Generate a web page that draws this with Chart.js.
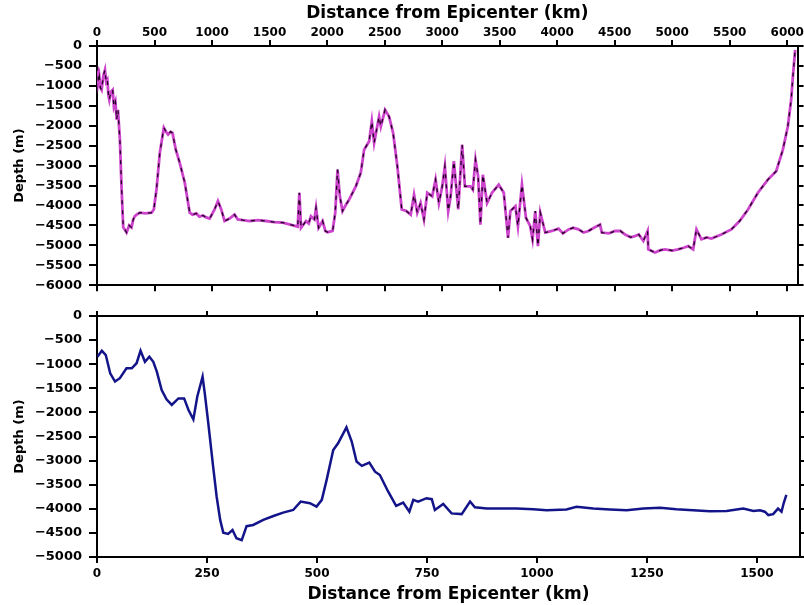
<!DOCTYPE html>
<html><head><meta charset="utf-8">
<script src="https://cdn.jsdelivr.net/npm/chart.js@4/dist/chart.umd.min.js"></script>
<style>
html,body{margin:0;padding:0;background:#fff;}
#wrap{position:relative;width:804px;height:605px;overflow:hidden;}
#c1{position:absolute;left:0;top:0;}
#c2{position:absolute;left:0;top:300px;}
</style></head><body>
<div id="wrap">
<canvas id="c1" width="804" height="300"></canvas>
<canvas id="c2" width="804" height="305"></canvas>
</div>
<script>
// ---- Data ----
const topDistanceKm = [3,12,20,30,40,55,69,80,90,100,107,120,136,147,160,171,182,199,214,228,245,257,280,300,315,329,350,373,420,474,494,517,546,581,600,618,640,656,685,719,763,806,830,864,890,921,950,979,1022,1051,1080,1109,1152,1196,1224,1270,1326,1400,1470,1540,1615,1680,1745,1759,1774,1817,1840,1860,1890,1904,1926,1961,1985,2004,2048,2071,2091,2111,2134,2160,2192,2250,2293,2322,2366,2389,2409,2452,2467,2504,2539,2574,2611,2649,2689,2727,2756,2784,2813,2842,2871,2914,2943,2972,3001,3024,3053,3074,3102,3140,3174,3198,3247,3267,3290,3313,3333,3354,3391,3434,3492,3536,3573,3593,3637,3659,3694,3729,3766,3786,3810,3833,3853,3897,3954,4012,4050,4099,4140,4185,4230,4272,4320,4373,4388,4450,4503,4550,4590,4640,4676,4710,4749,4786,4792,4850,4900,4937,5000,5052,5100,5139,5182,5211,5254,5300,5341,5427,5514,5586,5659,5745,5832,5904,5962,6005,6034,6049,6069];
const topDepthM = [-517,-900,-767,-1050,-1100,-750,-600,-900,-850,-1250,-1350,-1150,-1100,-1517,-1400,-1850,-1600,-2350,-3600,-4550,-4620,-4680,-4500,-4550,-4350,-4270,-4220,-4180,-4200,-4180,-4100,-3600,-2680,-2050,-2150,-2220,-2150,-2180,-2600,-2930,-3430,-4180,-4230,-4200,-4280,-4250,-4300,-4330,-4100,-3890,-4100,-4390,-4330,-4230,-4350,-4370,-4390,-4370,-4390,-4420,-4430,-4480,-4530,-3680,-4560,-4390,-4450,-4270,-4350,-4060,-4560,-4390,-4640,-4670,-4640,-4180,-3100,-3770,-4140,-4000,-3850,-3520,-3180,-2600,-2390,-1890,-2430,-1770,-2020,-1600,-1770,-2180,-3020,-4100,-4140,-4230,-3730,-4180,-3940,-4350,-3680,-3770,-3350,-3940,-3520,-3020,-4140,-3770,-2890,-4100,-2480,-3520,-3520,-3600,-2850,-3270,-4480,-3230,-3940,-3680,-3480,-3680,-4810,-4140,-4020,-4520,-3480,-4310,-4520,-4850,-4140,-5020,-4180,-4680,-4640,-4580,-4700,-4600,-4560,-4600,-4680,-4640,-4560,-4480,-4680,-4700,-4640,-4640,-4730,-4800,-4770,-4730,-4890,-4640,-5100,-5180,-5120,-5100,-5130,-5100,-5060,-5020,-5100,-4600,-4850,-4800,-4830,-4730,-4600,-4390,-4100,-3680,-3350,-3140,-2600,-2020,-1350,-770,-100];

const bottomDistanceKm = [1,11,20,30,41,52,67,79,90,99,109,119,128,136,147,158,170,185,198,208,219,228,240,245,253,264,272,280,287,298,308,317,329,340,355,378,401,423,446,463,484,499,511,522,537,548,567,579,590,602,619,632,643,662,680,696,710,719,730,749,761,768,787,806,829,848,859,886,916,954,992,1022,1067,1090,1128,1166,1204,1242,1280,1317,1355,1393,1431,1469,1492,1507,1518,1526,1537,1548,1556,1561,1567];
const bottomDepthM = [-845,-720,-810,-1190,-1360,-1290,-1085,-1085,-980,-720,-950,-845,-950,-1155,-1535,-1730,-1845,-1710,-1710,-1950,-2145,-1670,-1260,-1605,-2225,-3125,-3750,-4230,-4495,-4520,-4440,-4610,-4650,-4360,-4335,-4230,-4150,-4080,-4025,-3850,-3885,-3955,-3815,-3400,-2780,-2640,-2310,-2605,-3020,-3110,-3040,-3230,-3300,-3645,-3940,-3870,-4060,-3815,-3850,-3780,-3800,-4025,-3900,-4095,-4110,-3850,-3970,-3995,-3995,-3995,-4010,-4030,-4015,-3960,-3995,-4015,-4030,-3995,-3980,-4010,-4030,-4050,-4045,-3995,-4045,-4030,-4060,-4130,-4110,-3995,-4060,-3880,-3710];

// ---- Tick values ----
const topXTicks = [0,500,1000,1500,2000,2500,3000,3500,4000,4500,5000,5500,6000];
const topYTicks = [0,-500,-1000,-1500,-2000,-2500,-3000,-3500,-4000,-4500,-5000,-5500,-6000];
const bottomXTicks = [0,250,500,750,1000,1250,1500];
const bottomYTicks = [0,-500,-1000,-1500,-2000,-2500,-3000,-3500,-4000,-4500,-5000];
const topXRange = [0, 6090];
const topYRange = [-6000, 0];
const bottomXRange = [0, 1598];
const bottomYRange = [-5000, 0];

const FONT = 'DejaVu Sans';
const fmt = v => (v < 0 ? '\u2212' + Math.abs(v) : String(v));
const setTicks = arr => (s => { s.ticks = arr.map(v => ({value: v})); });
const gridOpt = len => ({drawOnChartArea: false, drawTicks: true, tickLength: len, color: '#000', lineWidth: 2});
const borderOpt = {display: true, color: '#000', width: 2};

function axis(pos, range, ticksArr, size, tickLen, showLabels, title, titlePad, tickPad) {
  const horiz = pos === 'top' || pos === 'bottom';
  return {
    type: 'linear', position: pos, min: range[0], max: range[1],
    afterBuildTicks: setTicks(ticksArr),
    afterFit: s => { if (horiz) s.height = size; else s.width = size; },
    grid: gridOpt(tickLen), border: borderOpt,
    ticks: {display: showLabels, font: {family: FONT, size: horiz ? 12 : 13, weight: 'bold'},
            color: '#000', padding: tickPad === undefined ? 2 : tickPad,
            maxRotation: 0, autoSkip: false, includeBounds: false, callback: fmt},
    title: {display: !!title, text: title || '', color: '#000',
            font: {family: FONT, size: horiz ? 17 : 13, weight: 'bold'},
            padding: {top: titlePad || 0, bottom: 0}}
  };
}

function pts(xs, ys) { return xs.map((x, i) => ({x: x, y: ys[i]})); }

const common = {
  responsive: false, animation: false, devicePixelRatio: 1,
  layout: {padding: 0},
  plugins: {legend: {display: false}, tooltip: {enabled: false}},
  elements: {point: {radius: 0}, line: {tension: 0}}
};

new Chart(document.getElementById('c1'), {
  type: 'line',
  data: {datasets: [
    {data: pts(topDistanceKm, topDepthM), borderColor: '#200020', borderWidth: 1.3, borderDash: [4, 6], order: 0, xAxisID: 'x', yAxisID: 'y'},
    {data: pts(topDistanceKm, topDepthM), borderColor: '#cc44cc', borderWidth: 2.8, order: 1, xAxisID: 'x', yAxisID: 'y'}
  ]},
  options: Object.assign({}, common, {
    scales: {
      x: axis('top', topXRange, topXTicks, 46, 6, true, 'Distance from Epicenter (km)', 3, 0),
      x2: axis('bottom', topXRange, topXTicks, 13, 6, false),
      y: axis('left', topYRange, topYTicks, 97, 8, true, 'Depth (m)', 12, 7),
      y2: axis('right', topYRange, topYTicks, 4, 6, false)
    }
  })
});

new Chart(document.getElementById('c2'), {
  type: 'line',
  data: {datasets: [
    {data: pts(bottomDistanceKm, bottomDepthM), borderColor: '#14148a', borderWidth: 2.5, xAxisID: 'x', yAxisID: 'y'}
  ]},
  options: Object.assign({}, common, {
    scales: {
      x: axis('bottom', bottomXRange, bottomXTicks, 48, 6, true, 'Distance from Epicenter (km)', 3, 4),
      x2: axis('top', bottomXRange, bottomXTicks, 16, 5, false),
      y: axis('left', bottomYRange, bottomYTicks, 97, 8, true, 'Depth (m)', 12, 7),
      y2: axis('right', bottomYRange, bottomYTicks, 4, 6, false)
    }
  })
});
</script>
</body></html>
